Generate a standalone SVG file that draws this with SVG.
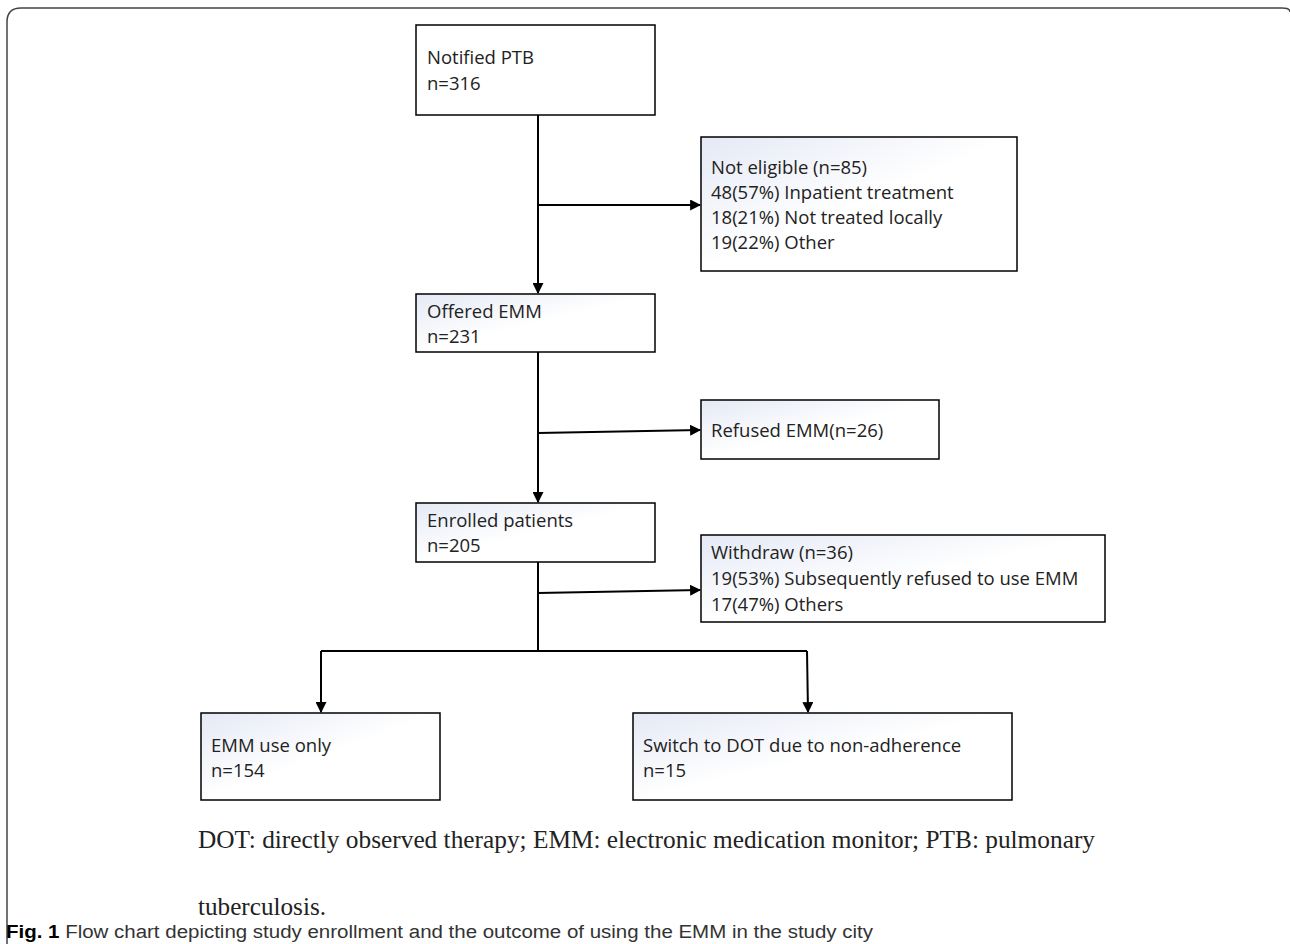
<svg xmlns="http://www.w3.org/2000/svg" width="1290" height="944" viewBox="0 0 1290 944">
<defs>
<linearGradient id="bg" x1="0" y1="0" x2="1" y2="1">
<stop offset="0" stop-color="#e4e9f5"/>
<stop offset="0.5" stop-color="#ffffff"/>
<stop offset="1" stop-color="#ffffff"/>
</linearGradient>
<marker id="ah" viewBox="0 0 10 10" refX="9" refY="5" markerWidth="5.5" markerHeight="5.5" orient="auto" markerUnits="strokeWidth">
<path d="M0,0 L10,5 L0,10 z" fill="#000"/>
</marker>
<style>
.box{fill:url(#bg);stroke:#000;stroke-width:1.5}
.t{font-family:"Open Sans","Liberation Sans",sans-serif;font-size:18.5px;fill:#222}
.c{fill:none;stroke:#000;stroke-width:2}
.a{marker-end:url(#ah)}
.fn{font-family:"Liberation Serif",serif;font-size:25px;fill:#222}
.cap{font-family:"Liberation Sans Narrow","Liberation Sans",sans-serif;font-size:18px;fill:#333}
</style>
</defs>
<rect width="1290" height="944" fill="#fff"/>
<path d="M7,944 L7,22 Q7,8 21,8 L1282,8 Q1290,8 1290,12" fill="none" stroke="#444" stroke-width="1.5"/>
<g id="connectors">
<path class="c a" d="M538,115 L538,293"/>
<path class="c a" d="M538,205 L700,205"/>
<path class="c a" d="M538,352 L538,502"/>
<path class="c a" d="M538,433 L700,430"/>
<path class="c" d="M538,562 L538,651"/>
<path class="c a" d="M538,593 L700,590"/>
<path class="c" d="M321,651 L807,651"/>
<path class="c a" d="M321,651 L321,712"/>
<path class="c a" d="M807,651 L808,712"/>
</g>
<g id="n1"><rect class="box" x="416" y="25" width="239" height="90" style="fill:#fff"/>
<text class="t" x="427" y="64">Notified PTB</text><text class="t" x="427" y="90">n=316</text></g>
<g id="n2"><rect class="box" x="701" y="137" width="316" height="134"/>
<text class="t" x="711" y="174">Not eligible (n=85)</text><text class="t" x="711" y="199">48(57%) Inpatient treatment</text><text class="t" x="711" y="224">18(21%) Not treated locally</text><text class="t" x="711" y="249">19(22%) Other</text></g>
<g id="n3"><rect class="box" x="416" y="294" width="239" height="58"/>
<text class="t" x="427" y="318">Offered EMM</text><text class="t" x="427" y="343">n=231</text></g>
<g id="n4"><rect class="box" x="701" y="400" width="238" height="59"/>
<text class="t" x="711" y="437">Refused EMM(n=26)</text></g>
<g id="n5"><rect class="box" x="416" y="503" width="239" height="59"/>
<text class="t" x="427" y="527">Enrolled patients</text><text class="t" x="427" y="552">n=205</text></g>
<g id="n6"><rect class="box" x="701" y="535" width="404" height="87"/>
<text class="t" x="711" y="559">Withdraw (n=36)</text><text class="t" x="711" y="585">19(53%) Subsequently refused to use EMM</text><text class="t" x="711" y="611">17(47%) Others</text></g>
<g id="n7"><rect class="box" x="201" y="713" width="239" height="87"/>
<text class="t" x="211" y="752">EMM use only</text><text class="t" x="211" y="777">n=154</text></g>
<g id="n8"><rect class="box" x="633" y="713" width="379" height="87"/>
<text class="t" x="643" y="752">Switch to DOT due to non-adherence</text><text class="t" x="643" y="777">n=15</text></g>
<text class="fn" x="198" y="848" textLength="897" lengthAdjust="spacingAndGlyphs">DOT: directly observed therapy; EMM: electronic medication monitor; PTB: pulmonary</text>
<text class="fn" x="198" y="915" textLength="128" lengthAdjust="spacingAndGlyphs">tuberculosis.</text>
<text class="cap" x="6" y="938" textLength="867" lengthAdjust="spacingAndGlyphs"><tspan font-weight="bold" fill="#000">Fig. 1</tspan> Flow chart depicting study enrollment and the outcome of using the EMM in the study city</text>
</svg>
